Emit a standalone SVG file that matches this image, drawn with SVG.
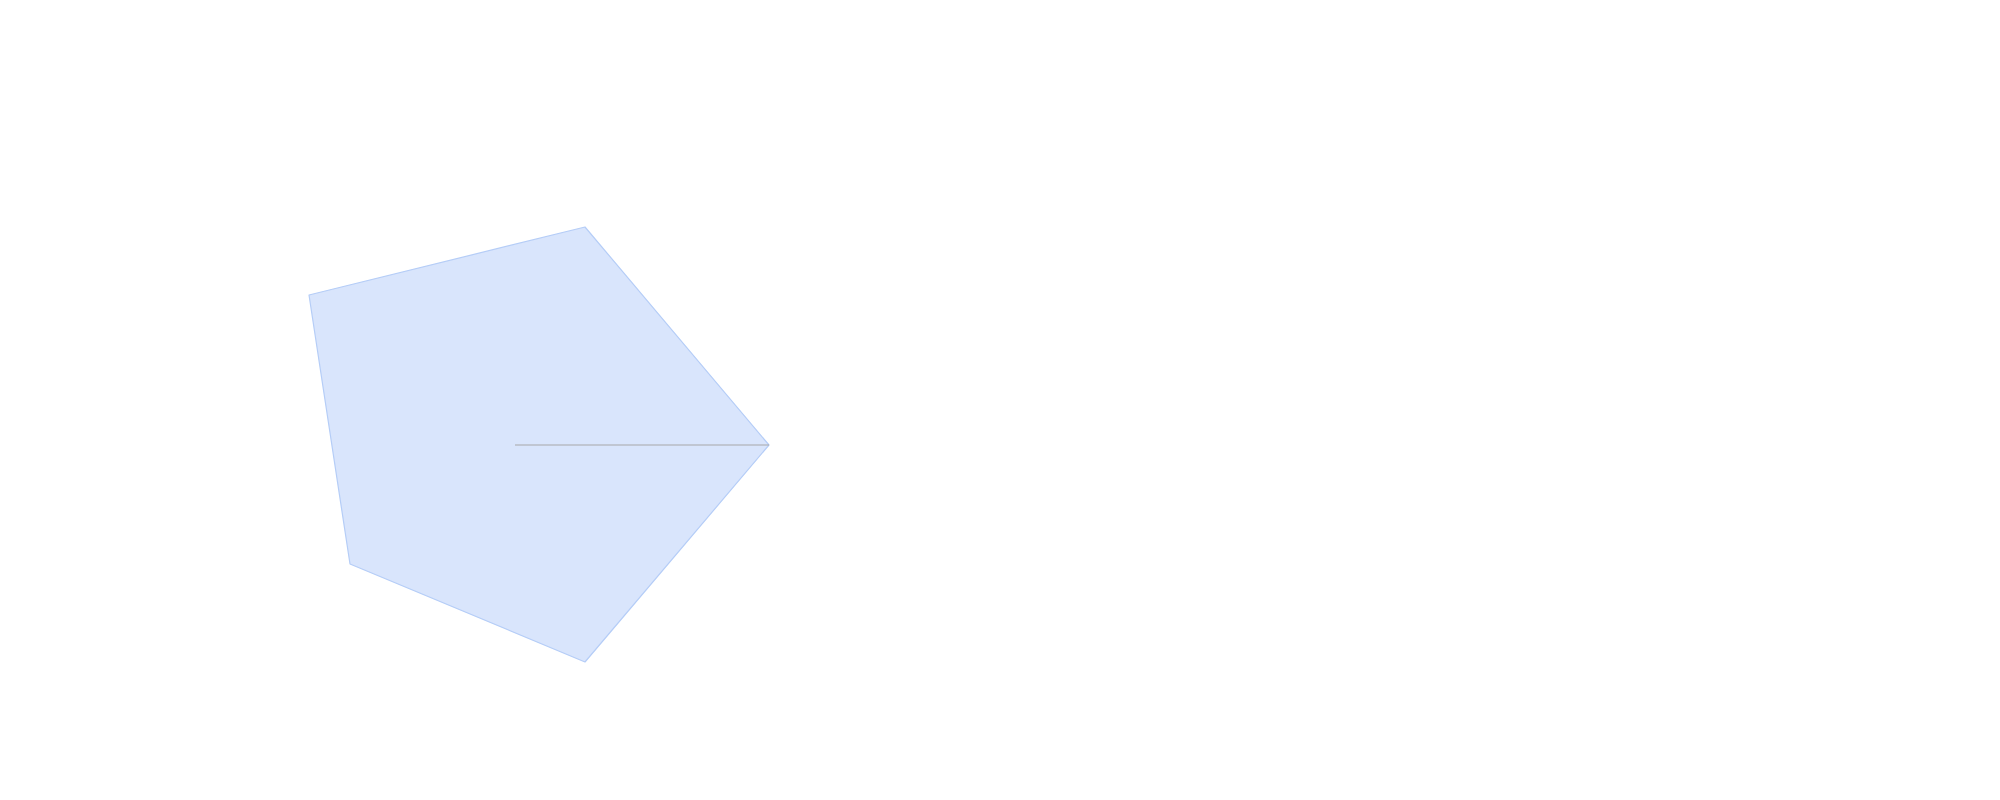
<svg xmlns="http://www.w3.org/2000/svg" width="2000" height="800" viewBox="0 0 2000 800">
<style>
.area{fill:#d9e5fc;stroke:#b5cdf7;stroke-width:1.2;stroke-linejoin:round}
.axis{stroke:#a8a8a8;stroke-width:1.2;fill:none}
</style>
<rect width="2000" height="800" fill="#ffffff"/>
<g id="series">
<polygon class="area" points="769,445 585,227 309,295 350,564 585,662"/>
</g>
<g id="connectors">
<line class="axis" x1="515" y1="445" x2="769" y2="445"/>
</g>
</svg>
